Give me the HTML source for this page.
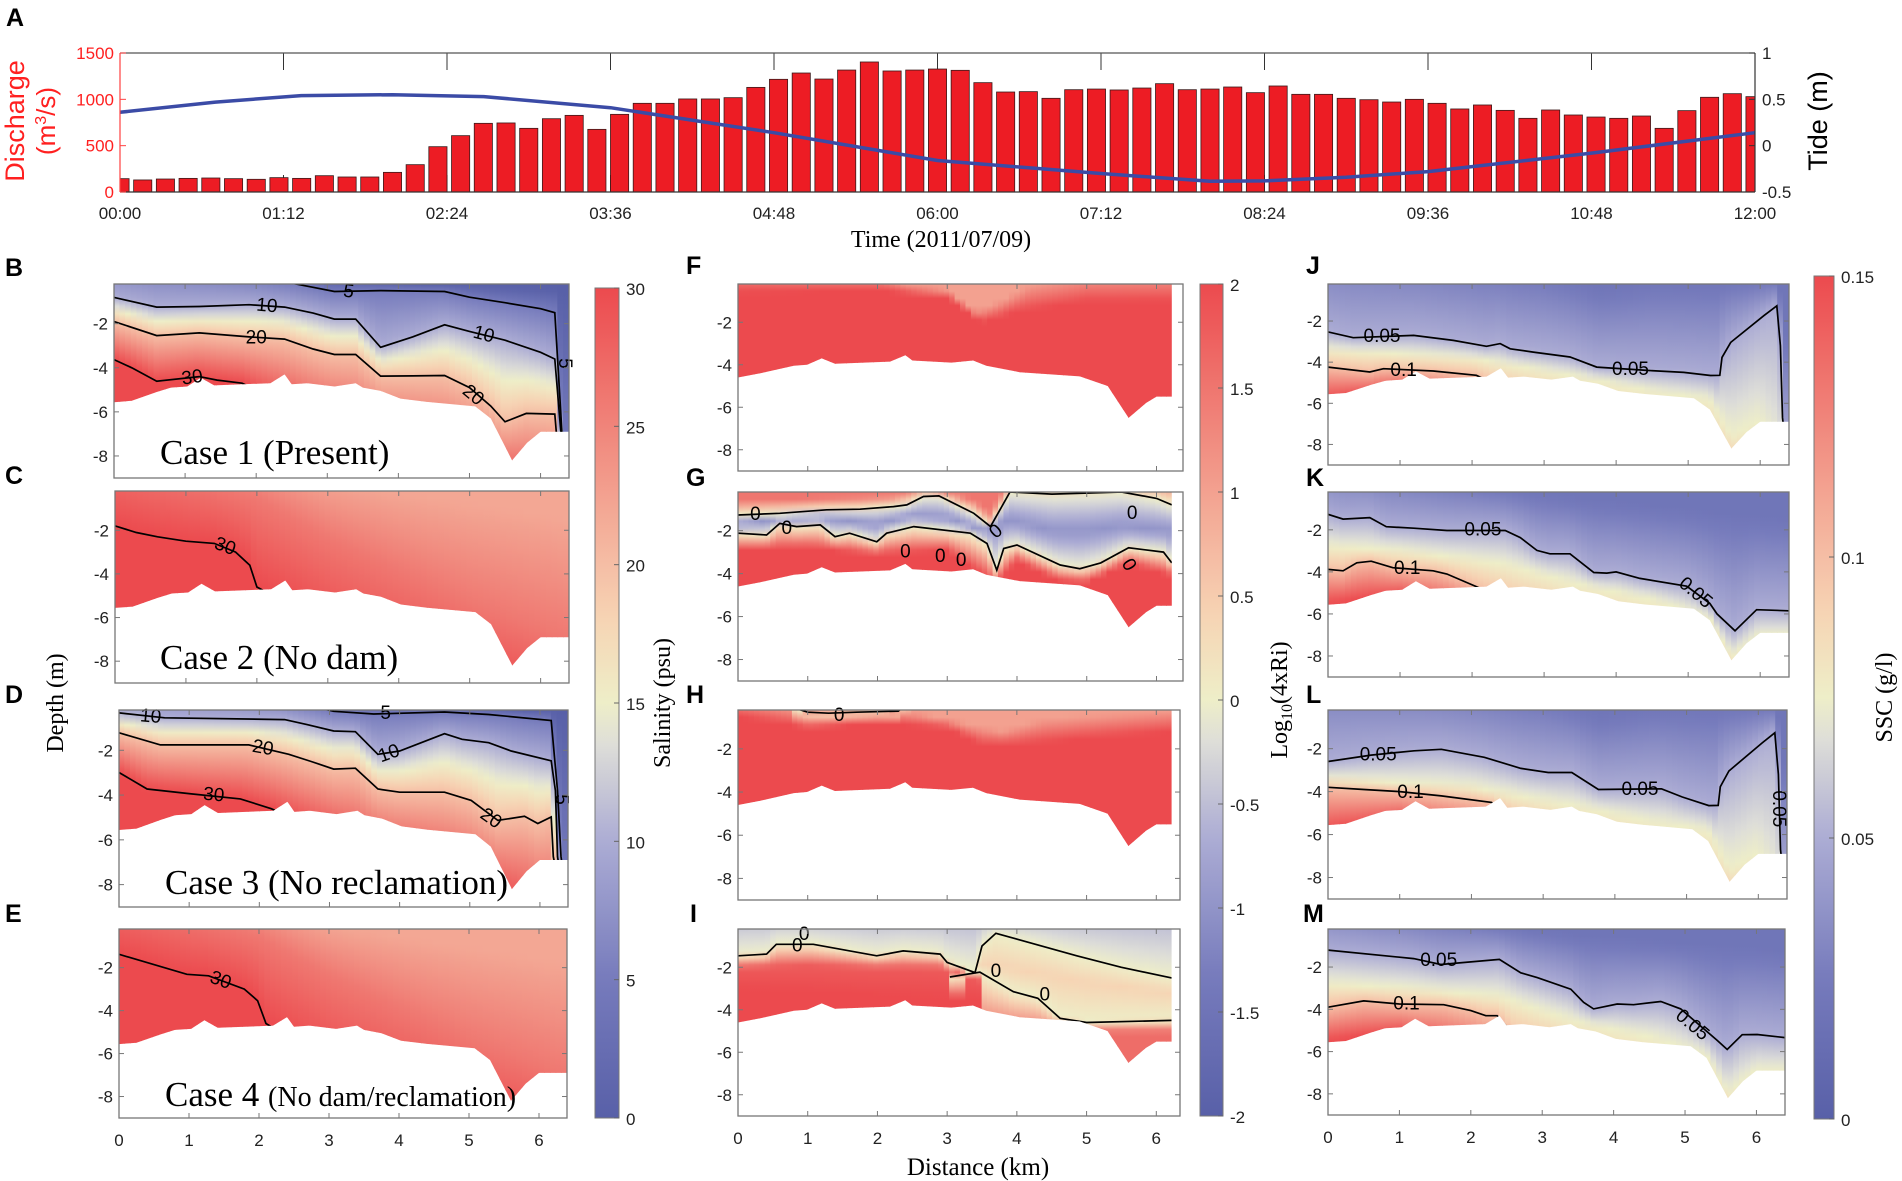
<!DOCTYPE html>
<html><head><meta charset="utf-8"><title>Salinity, Ri and SSC sections</title>
<style>
html,body{margin:0;padding:0;background:#fff;}
svg{display:block;font-family:"Liberation Sans",Arial,sans-serif;}
.tk{font-size:17px;fill:#222;}
.serif{font-family:"Liberation Serif","Times New Roman",serif;}
.lab{font-size:25px;font-weight:bold;fill:#000;}
</style></head>
<body>
<svg id="fig" xmlns="http://www.w3.org/2000/svg" width="1902" height="1181" viewBox="0 0 1902 1181">
<defs id="defs"></defs>
</svg>
<script>
// ---------------- Panel A data ----------------
const barHours = [];
for (let i = 0; i <= 72; i++) barHours.push(i / 6);
const discharge = [144,130,140,147,151,144,137,155,147,176,162,162,212,295,489,608,741,745,687,791,827,676,838,957,957,1004,1004,1018,1129,1216,1284,1219,1316,1403,1306,1316,1327,
1313,1180,1079,1083,1011,1104,1111,1101,1122,1169,1104,1111,1133,1072,1144,1054,1054,1011,996,971,1000,957,896,939,881,795,885,831,809,795,820,687,878,1022,1061,1029];
const tideHours = [0,0.7,1.33,2,2.67,3.6,4.8,6,7.2,8,8.4,9,9.6,10.8,12];
const tideVals  = [0.36,0.47,0.54,0.55,0.53,0.41,0.14,-0.16,-0.30,-0.385,-0.38,-0.34,-0.28,-0.08,0.14];
const timeTicks = ["00:00","01:12","02:24","03:36","04:48","06:00","07:12","08:24","09:36","10:48","12:00"];
const dischargeTicks = [0,500,1000,1500];
const tideTicks = [-0.5,0,0.5,1];

// ---------------- Section data ----------------
const bathyX1 = [0,0.25,0.6,0.8,1.03,1.22,1.41,2.2,2.4,2.5,2.72,3.1,3.4,3.5,3.75,4.03,4.4,5.08,5.3,5.6,5.81,6.0,6.4];
const bathyD1 = [-5.56,-5.5,-5.1,-4.9,-4.85,-4.45,-4.8,-4.7,-4.3,-4.75,-4.7,-4.85,-4.7,-4.9,-5.05,-5.4,-5.55,-5.75,-6.3,-8.2,-7.4,-6.9,-6.9];
const bathyX2 = [0,0.32,0.8,0.99,1.2,1.39,2.18,2.4,2.5,3.06,3.37,3.56,4.04,4.9,5.3,5.6,5.85,6.0,6.22];
const bathyD2 = [-4.6,-4.4,-4.05,-4.0,-3.7,-3.95,-3.85,-3.55,-3.8,-3.9,-3.8,-4.05,-4.35,-4.55,-5.0,-6.5,-5.8,-5.5,-5.5];
const depthTicks = [-2,-4,-6,-8];
const distTicks = [0,1,2,3,4,5,6];
const salTicks = [0,5,10,15,20,25,30];
const riTicks = [-2,-1.5,-1,-0.5,0,0.5,1,1.5,2];
const sscTicks = [0,0.05,0.1,0.15];

// Level = [value, xs(km), depths(m)]
const levelsB = [
 [0,[0,2,3,6.4],[2.5,1.5,0,-0.5]],
 [5,[0,1.2,2.4,2.8,3.1,3.75,4.65,5.0,5.5,6.0,6.2,6.3,6.4],[0.8,0.4,-0.1,-0.35,-0.54,-0.5,-0.54,-0.8,-1.05,-1.32,-1.5,-6.9,-9]],
 [10,[0,0.6,1.2,1.9,2.4,2.8,3.1,3.4,3.75,4.2,4.65,5.0,5.5,6.0,6.2,6.3,6.4],[-0.81,-1.25,-1.22,-1.14,-1.25,-1.52,-1.79,-1.79,-3.07,-2.6,-2.05,-2.35,-2.75,-3.3,-3.6,-7.5,-9.5]],
 [20,[0,0.6,1.2,1.9,2.4,2.8,3.1,3.4,3.75,4.2,4.65,5.0,5.3,5.5,5.8,6.2,6.25,6.4],[-1.9,-2.54,-2.42,-2.6,-2.7,-3.15,-3.4,-3.4,-4.38,-4.37,-4.35,-4.9,-5.74,-6.45,-6.07,-6.1,-8,-10]],
 [30,[0,0.25,0.6,1.2,1.45,1.8,2.4,3,4,6.4],[-3.63,-4.0,-4.61,-4.4,-4.56,-4.7,-5.6,-6.5,-7.5,-10]],
 [32,[0,6.4],[-6,-12]]
];
const levelsC = [
 [22,[0,2,3,4,5,6,6.4],[4,1.5,0.3,-0.3,-0.8,-1.3,-1.6]],
 [26,[0,2,3,4,5,6.4],[1.5,-0.5,-2.3,-3.8,-5.3,-7]],
 [30,[0,0.3,0.6,1.0,1.4,1.7,1.9,2.0,2.4,3,4,5,6.4],[-1.8,-2.1,-2.3,-2.5,-2.6,-3.0,-3.6,-4.6,-5.3,-6.5,-8,-9,-10]],
 [31,[0,6.4],[-4,-13]]
];
const levelsD = [
 [0,[0,2,3,6.4],[3,2,0.3,-0.3]],
 [5,[0,1.5,2.7,3.06,3.63,4.64,5.27,6.16,6.25,6.3,6.4],[1.5,0.8,0,-0.26,-0.38,-0.29,-0.4,-0.67,-3.8,-6.75,-9]],
 [10,[0,0.65,2.36,2.68,3.06,3.37,3.69,4.0,4.64,4.89,5.27,5.59,6.16,6.22,6.25,6.4],[-0.33,-0.55,-0.63,-0.85,-1.14,-1.17,-2.18,-2.03,-1.26,-1.51,-1.66,-2.03,-2.47,-3.8,-6.75,-9.5]],
 [20,[0,0.59,1.85,2.42,2.74,3.06,3.37,3.69,4.0,4.64,5.02,5.4,5.78,5.97,6.16,6.19,6.4],[-1.22,-1.76,-1.76,-2.18,-2.5,-2.84,-2.8,-3.73,-3.87,-3.87,-4.24,-5.13,-4.95,-5.27,-4.98,-6.75,-10]],
 [30,[0,0.4,1.03,1.73,2.17,2.6,3.2,4,5,6.4],[-2.99,-3.73,-3.95,-4.17,-4.61,-5.2,-6,-6.8,-7.8,-10]],
 [32,[0,6.4],[-5.5,-12]]
];
const levelsE = [
 [22,[0,2,3,4,5,6,6.4],[4,1.2,0,-0.6,-1.1,-1.6,-1.8]],
 [26,[0,2,3,4,5,6.4],[1.5,-0.5,-2.3,-3.8,-5.3,-7]],
 [30,[0,0.97,1.28,1.79,1.98,2.1,2.5,3,4,5,6.4],[-1.38,-2.31,-2.38,-3.0,-3.54,-4.6,-5.4,-6.5,-8,-9,-10]],
 [31,[0,6.4],[-4,-13]]
];
const levelsF = [
 [1.0,[0,1,2,2.5,3,3.4,3.8,4.2,5,6.22],[0.5,0.3,0.2,-0.3,-0.5,-1.5,-1.0,-0.2,0.2,0.3]],
 [2,[0,2,3,3.5,4,5,6.22],[-0.6,-0.5,-0.8,-2.0,-1.5,-1.0,-1.0]]
];
const levelsG = [
 [1.5,[0,1.3,2.2,2.7,3.4,3.6,3.9,6.22],[-0.6,-0.5,-0.4,0.1,-0.6,-1.2,0.3,0.3]],
 [0,[0,0.6,1.27,1.75,2.23,2.42,2.66,2.88,3.38,3.62,3.9,4.5,5.5,6.0,6.22],[-1.27,-1.19,-1.03,-1.0,-0.88,-0.8,-0.41,-0.38,-1.19,-1.81,-0.2,-0.3,-0.2,-0.5,-0.8]],
 [-1,[0,0.6,1.2,2.0,2.5,3.0,3.5,3.9,4.5,5.0,5.5,6.22],[-1.7,-1.45,-1.4,-1.7,-1.3,-1.4,-2.0,-1.5,-2,-2,-1.8,-2]],
 [0,[0,0.41,0.6,0.84,1.18,1.39,1.6,1.99,2.13,2.52,3.33,3.57,3.71,3.81,4.0,4.62,4.9,5.2,5.6,6.1,6.22],[-2.12,-2.2,-1.66,-1.81,-1.73,-2.28,-2.12,-2.52,-2.12,-1.81,-2.12,-2.6,-3.84,-2.83,-2.67,-3.6,-3.77,-3.5,-2.8,-3.0,-3.5]],
 [2,[0,1,2,3,3.7,4,4.6,5,5.6,6.22],[-2.9,-2.8,-3.1,-2.9,-4.5,-3.4,-4.3,-4.4,-3.5,-4.1]]
];
const levelsH = [
 [-0.3,[0.8,1.3,1.8,2.3],[0.2,-0.1,-0.1,0.2]],
 [0,[0.6,0.8,1.0,1.3,1.7,2.3,2.5],[0.3,-0.1,-0.3,-0.35,-0.3,-0.25,0.3]],
 [1.0,[0,1,2,2.6,3.2,3.8,4.4,6.22],[0.3,-0.2,-0.1,-0.4,-0.8,-1.2,-0.6,-0.2]],
 [2,[0,1,2,3,3.5,4,5,6.22],[-0.5,-1.0,-0.8,-1.0,-1.8,-1.8,-1.5,-1.2]]
];
const levelsI = [
 [-0.6,[0,6.22],[0.5,0.5]],
 [0,[0,0.41,0.55,1.08,1.99,2.37,2.9,3.0,3.4,3.5,3.7,4.86,5.5,6.22],[-1.46,-1.38,-0.92,-0.92,-1.46,-1.23,-1.38,-1.77,-2.25,-1.0,-0.4,-1.46,-2,-2.5]],
 [1.8,[0,1,2,2.9,3.47],[-2.0,-1.9,-2.0,-2.0,-2.6]],
 [2,[0,3.47],[-3,-3.5]],
 [0.4,[3.45,4.3,5,6.22],[-1.8,-2.3,-2.7,-3.2]],
 [0,[3.04,3.47,3.95,4.3,4.62,5.0,6.22],[-2.46,-2.23,-3.15,-3.46,-4.4,-4.6,-4.5]],
 [1.6,[3.5,6.22],[-5,-5]]
];
const levelsJ = [
 [0.02,[0,3,3.8,4.5,6.2,6.35,6.4],[2,0.5,-0.4,0,0,-1,-9]],
 [0.05,[0,0.35,1.19,1.74,2.2,2.39,2.53,2.85,3.36,3.73,4.43,4.94,5.31,5.44,5.47,5.59,6.05,6.23,6.28,6.31,6.4],[-2.53,-2.81,-2.7,-2.94,-3.23,-3.1,-3.35,-3.51,-3.75,-4.24,-4.4,-4.5,-4.65,-4.64,-3.77,-3.04,-1.74,-1.26,-3.2,-6.7,-9.5]],
 [0.075,[0,2,2.5,3.5,4.5,5.3,5.6,6.0,6.4],[-3.4,-3.8,-4.1,-4.7,-5.4,-5.8,-7.6,-6.9,-10]],
 [0.1,[0,0.58,0.77,1.46,2.06,2.4,3,6.4],[-4.24,-4.48,-4.32,-4.43,-4.64,-5.2,-6,-10]],
 [0.15,[0,1,2,6.4],[-5.8,-5.3,-6,-11]]
];
const levelsK = [
 [0.02,[0,2.5,3.5,6.4],[1.5,0,-0.5,-1.5]],
 [0.05,[0,0.21,0.58,0.81,1.19,1.65,2.46,2.67,2.9,3.08,3.36,3.69,3.87,4.0,4.33,4.98,5.3,5.4,5.65,5.95,6.4],[-1.26,-1.49,-1.42,-1.85,-1.92,-2.03,-2.03,-2.37,-2.98,-3.14,-3.14,-4.03,-4.06,-4.0,-4.31,-4.68,-5.5,-6.0,-6.8,-5.8,-5.85]],
 [0.075,[0,1,2.4,3.5,4.5,5.3,5.6,6,6.4],[-2.8,-3.0,-3.6,-4.6,-5.3,-6.2,-8,-7,-7]],
 [0.1,[0,0.21,0.4,0.6,0.9,1.46,1.65,1.97,2.4,3,6.4],[-3.88,-3.95,-3.57,-3.49,-3.8,-3.95,-4.1,-4.57,-5.2,-6,-10]],
 [0.15,[0,1,2,6.4],[-5.5,-5.1,-6,-11]]
];
const levelsL = [
 [0.02,[0,3,3.8,4.5,6.2,6.35,6.4],[2,0.5,-0.4,0,0,-1,-9]],
 [0.05,[0,0.6,1.2,1.58,2.18,2.69,3.07,3.4,3.77,4.65,4.94,5.31,5.44,5.47,5.59,6.05,6.23,6.28,6.31,6.4],[-2.6,-2.3,-2.1,-2.03,-2.4,-2.92,-3.11,-3.11,-3.9,-3.87,-4.25,-4.65,-4.64,-3.77,-3.04,-1.74,-1.26,-3.2,-6.7,-9.5]],
 [0.075,[0,2,2.5,3.5,4.5,5.3,5.6,6.0,6.4],[-3.4,-3.8,-4.1,-4.7,-5.4,-5.8,-7.6,-6.9,-10]],
 [0.1,[0,0.5,1.0,1.58,2.28,2.6,3.2,6.4],[-3.8,-3.9,-4.0,-4.2,-4.5,-5.2,-6,-10]],
 [0.15,[0,1,2,6.4],[-5.8,-5.3,-6,-11]]
];
const levelsM = [
 [0.02,[0,2.5,3.5,6.4],[1.5,0,-0.5,-1.2]],
 [0.05,[0,1.2,1.58,2.4,2.7,2.93,3.4,3.58,3.72,4.05,4.28,4.66,4.94,5.45,5.59,5.8,6.01,6.4],[-1.2,-1.6,-1.88,-1.64,-2.27,-2.5,-3.05,-3.67,-3.98,-3.75,-3.78,-3.63,-3.98,-5.47,-5.9,-5.2,-5.19,-5.34]],
 [0.075,[0,1,2.4,3.5,4.5,5.3,5.6,6,6.4],[-2.8,-3.0,-3.4,-4.6,-5.3,-6.2,-8,-6.9,-6.9]],
 [0.1,[0,0.5,1.0,1.62,2.0,2.21,2.37,2.6,3.2,6.4],[-3.9,-3.6,-3.75,-3.78,-4.06,-4.3,-4.3,-5.2,-6,-10]],
 [0.15,[0,1,2,6.4],[-5.5,-5.1,-6,-11]]
];

const labelsB = [["5",3.3,-0.55,8],["10",2.15,-1.2,5],["20",2.0,-2.65,0],["30",1.1,-4.45,-8],["10",5.2,-2.5,15],["20",5.05,-5.25,40],["5",6.34,-3.8,90]];
const labelsC = [["30",1.55,-2.75,20]];
const labelsD = [["10",0.45,-0.5,5],["5",3.8,-0.35,0],["20",2.05,-1.9,10],["10",3.85,-2.15,-20],["30",1.35,-4.0,5],["20",5.3,-5.05,35],["5",6.3,-4.2,90]];
const labelsE = [["30",1.45,-2.6,20]];
const labelsG = [["0",0.25,-1.25,0],["0",0.7,-1.9,0],["0",3.7,-2.05,-40],["0",2.4,-3.0,0],["0",2.9,-3.2,0],["0",3.2,-3.4,0],["0",5.65,-1.2,0],["0",5.6,-3.6,60]];
const labelsH = [["0",1.45,-0.45,0]];
const labelsI = [["0",0.95,-0.45,0],["0",0.85,-1.0,0],["0",3.7,-2.2,0],["0",4.4,-3.3,0]];
const labelsJ = [["0.05",0.75,-2.75,0],["0.1",1.05,-4.4,0],["0.05",4.2,-4.35,0]];
const labelsK = [["0.05",2.15,-2.0,0],["0.1",1.1,-3.85,0],["0.05",5.1,-5.0,40]];
const labelsL = [["0.05",0.7,-2.3,0],["0.1",1.15,-4.05,0],["0.05",4.35,-3.9,0],["0.05",6.28,-4.8,90]];
const labelsM = [["0.05",1.55,-1.7,0],["0.1",1.1,-3.75,0],["0.05",5.1,-4.75,40]];

// ---------------- helpers ----------------
const NS = "http://www.w3.org/2000/svg";
const svg = document.getElementById("fig");
const defs = document.getElementById("defs");
function el(tag, attrs, parent) {
  const e = document.createElementNS(NS, tag);
  for (const k in attrs) e.setAttribute(k, attrs[k]);
  (parent || svg).appendChild(e);
  return e;
}
function txt(s, x, y, attrs, parent) {
  const t = el("text", Object.assign({x: x, y: y}, attrs || {}), parent);
  t.textContent = s;
  return t;
}
function interp(xs, ys, x) {
  if (x < xs[0] - 1e-9 || x > xs[xs.length - 1] + 1e-9) return null;
  for (let i = 1; i < xs.length; i++) {
    if (x <= xs[i]) {
      const t = (x - xs[i - 1]) / ((xs[i] - xs[i - 1]) || 1);
      return ys[i - 1] + t * (ys[i] - ys[i - 1]);
    }
  }
  return ys[ys.length - 1];
}
const CM = [[0,88,96,168],[1/6,118,123,188],[1/3,172,172,212],[0.45,222,222,216],[0.5,238,238,200],[0.6,246,212,180],[2/3,245,190,165],[5/6,240,132,122],[1,236,74,78]];
function cmap(t) {
  t = Math.max(0, Math.min(1, t));
  for (let i = 1; i < CM.length; i++) {
    if (t <= CM[i][0]) {
      const a = CM[i - 1], b = CM[i], f = (t - a[0]) / (b[0] - a[0]);
      return "rgb(" + Math.round(a[1] + f * (b[1] - a[1])) + "," + Math.round(a[2] + f * (b[2] - a[2])) + "," + Math.round(a[3] + f * (b[3] - a[3])) + ")";
    }
  }
  return "rgb(236,74,78)";
}
const YMAX = -0.2, YMIN = -9;
let gid = 0;

// ---------------- Panel A ----------------
(function () {
  const x0 = 120, x1 = 1755, y0 = 53, y1 = 192;
  const xA = h => x0 + h / 12 * (x1 - x0);
  const yQ = q => y1 - q / 1500 * (y1 - y0);
  const yT = t => y1 - (t + 0.5) / 1.5 * (y1 - y0);
  const g = el("g", {});
  
  
  const cp = el("clipPath", {id: "clipA"}, defs);
  el("rect", {x: x0, y: y0 - 2, width: x1 - x0, height: y1 - y0 + 2}, cp);
  timeTicks.forEach((s, i) => {
    const x = xA(i * 1.2);
    const t1 = el("line", {x1: x, y1: y0, x2: x, y2: y0 + 17, stroke: "#333", "stroke-width": 1}, g);
    
    
    el("line", {x1: x, y1: y1, x2: x, y2: y1 - 17, stroke: "#333", "stroke-width": 1}, g);
    const lb = txt(s, x, 219, {class: "tk", "text-anchor": "middle", "font-size": "17"}, g);
    
    
  });
  const bars = el("g", {"clip-path": "url(#clipA)"}, g);
  
  
  const bw = (x1 - x0) / 72 * 0.8;
  discharge.forEach((q, i) => {
    const x = xA(barHours[i]);
    const r = el("rect", {x: x - bw / 2, y: yQ(q), width: bw, height: y1 - yQ(q), fill: "#ed1c24", stroke: "#3a1a1a", "stroke-width": 0.8}, bars);
    
    
  });
  let d = "";
  tideHours.forEach((h, i) => { d += (i ? "L" : "M") + xA(h).toFixed(1) + "," + yT(tideVals[i]).toFixed(1); });
  const line = el("path", {d: d, fill: "none", stroke: "#3b4ba6", "stroke-width": 3.5, "stroke-linejoin": "round"}, g);
  
  
  el("line", {x1: x0, y1: y0, x2: x1, y2: y0, stroke: "#555", "stroke-width": 1.2}, g);
  el("line", {x1: x0, y1: y1, x2: x1, y2: y1, stroke: "#333", "stroke-width": 1.2}, g);
  el("line", {x1: x1, y1: y0, x2: x1, y2: y1, stroke: "#333", "stroke-width": 1.2}, g);
  el("line", {x1: x0, y1: y0, x2: x0, y2: y1, stroke: "#ff4040", "stroke-width": 1.2}, g);
  dischargeTicks.forEach(q => {
    el("line", {x1: x0, y1: yQ(q), x2: x0 + 6, y2: yQ(q), stroke: "#ff4040"}, g);
    const t = txt(String(q), x0 - 6, yQ(q) + 6, {class: "tk", "text-anchor": "end", style: "fill:#ff2020"}, g);
    
    
  });
  tideTicks.forEach(v => {
    el("line", {x1: x1, y1: yT(v), x2: x1 - 6, y2: yT(v), stroke: "#333"}, g);
    const t = txt(String(v), x1 + 7, yT(v) + 6, {class: "tk"}, g);
    
    
  });
  const yl = el("text", {transform: "translate(24,121) rotate(-90)", "text-anchor": "middle", "font-size": "27", fill: "#ff2020"}, g);
  yl.textContent = "Discharge";
  
  
  const yl2 = el("text", {transform: "translate(55,121) rotate(-90)", "text-anchor": "middle", "font-size": "26", fill: "#ff2020"}, g);
  yl2.innerHTML = '(m<tspan dy="-9" font-size="16">3</tspan><tspan dy="9">/s)</tspan>';
  
  
  const yr = el("text", {transform: "translate(1827,121) rotate(-90)", "text-anchor": "middle", "font-size": "27", fill: "#000"}, g);
  yr.textContent = "Tide (m)";
  
  
  const xt = txt("Time (2011/07/09)", 941, 247, {class: "serif", "font-size": "24", "text-anchor": "middle"}, g);
  
  
})();

// ---------------- Section panels ----------------
function drawPanel(p) {
  const [X0, Y0, X1, Y1] = p.r;
  const sx = km => X0 + km * (X1 - X0) / p.xmax;
  const sy = d => Y0 + (YMAX - d) * (Y1 - Y0) / (YMAX - YMIN);
  const g = el("g", {});
  
  
  const id = "cp" + (gid++);
  const cp = el("clipPath", {id: id}, defs);
  const bx = p.bx, bd = p.bd, xEnd = bx[bx.length - 1];
  let pts = [[sx(0), Y0], [sx(xEnd), Y0]];
  for (let i = bx.length - 1; i >= 0; i--) pts.push([sx(bx[i]), sy(bd[i])]);
  el("polygon", {points: pts.map(q => q[0].toFixed(1) + "," + q[1].toFixed(1)).join(" ")}, cp);
  const field = el("g", {"clip-path": "url(#" + id + ")"}, g);
  
  
  const ncol = 80, nst = 26;
  for (let c = 0; c < ncol; c++) {
    const xa = c * xEnd / ncol, xb = (c + 1) * xEnd / ncol, xm = (xa + xb) / 2;
    const pairs = [];
    p.levels.forEach(L => { const dv = interp(L[1], L[2], xm); if (dv !== null) pairs.push([dv, L[0]]); });
    pairs.sort((a, b) => b[0] - a[0]);
    const gidn = "lg" + (gid++);
    const lg = el("linearGradient", {id: gidn, gradientUnits: "userSpaceOnUse", x1: 0, y1: Y0, x2: 0, y2: Y1}, defs);
    for (let s = 0; s <= nst; s++) {
      const z = YMAX + (YMIN - YMAX) * s / nst;
      let v;
      if (!pairs.length) v = p.vmax;
      else if (z >= pairs[0][0]) v = pairs[0][1];
      else if (z <= pairs[pairs.length - 1][0]) v = pairs[pairs.length - 1][1];
      else {
        for (let k = 1; k < pairs.length; k++) {
          if (z >= pairs[k][0]) {
            const f = (pairs[k - 1][0] - z) / ((pairs[k - 1][0] - pairs[k][0]) || 1);
            v = pairs[k - 1][1] + f * (pairs[k][1] - pairs[k - 1][1]);
            break;
          }
        }
      }
      el("stop", {offset: (s / nst).toFixed(3), "stop-color": cmap((v - p.vmin) / (p.vmax - p.vmin))}, lg);
    }
    el("rect", {x: sx(xa) - 0.3, y: Y0, width: sx(xb) - sx(xa) + 0.8, height: Y1 - Y0, fill: "url(#" + gidn + ")"}, field);
  }
  const cl = el("g", {"clip-path": "url(#" + id + ")"}, g);
  p.contours.forEach(ci => {
    const L = p.levels[ci];
    let d = "";
    L[1].forEach((x, i) => { d += (i ? "L" : "M") + sx(x).toFixed(1) + "," + sy(L[2][i]).toFixed(1); });
    const pl = el("path", {d: d, fill: "none", stroke: "#000", "stroke-width": 1.7}, cl);
    
    
  });
  (p.labels || []).forEach(l => {
    const x = sx(l[1]), y = sy(l[2]);
    const t = el("text", {transform: "translate(" + x.toFixed(1) + "," + y.toFixed(1) + ") rotate(" + (l[3] || 0) + ")", "text-anchor": "middle", "dominant-baseline": "central", "font-size": "19", fill: "#000"}, g);
    t.textContent = l[0];
    
    
  });
  el("rect", {x: X0, y: Y0, width: X1 - X0, height: Y1 - Y0, fill: "none", stroke: "#777", "stroke-width": 1.3}, g);
  depthTicks.forEach(d => {
    el("line", {x1: X0, y1: sy(d), x2: X0 + 5, y2: sy(d), stroke: "#777"}, g);
    el("line", {x1: X1, y1: sy(d), x2: X1 - 5, y2: sy(d), stroke: "#777"}, g);
    const t = txt(String(d), X0 - 6, sy(d) + 6, {class: "tk", "text-anchor": "end", "font-size": "18"}, g);
    
    
  });
  distTicks.forEach(k => {
    if (k === 0) return;
    el("line", {x1: sx(k), y1: Y1, x2: sx(k), y2: Y1 - 5, stroke: "#777"}, g);
    el("line", {x1: sx(k), y1: Y0, x2: sx(k), y2: Y0 + 5, stroke: "#777"}, g);
  });
  if (p.xlabels) distTicks.forEach(k => {
    const t = txt(String(k), sx(k), Y1 + 28, {class: "tk", "text-anchor": "middle", "font-size": "18"}, g);
    
    
  });
  const lt = txt(p.letter, p.lx, p.ly, {class: "lab"}, svg);
  
  
  if (p.caseLabel) {
    const c = el("text", {x: p.caseX, y: p.caseY, class: "serif", "font-size": "35", fill: "#000"}, g);
    c.innerHTML = p.caseLabel;
    
    
  }
}

const S = [0, 30], R = [-2, 2], Q = [0, 0.15];
const panels = [
 {name:"panel-b-salinity-case1", letter:"B", lx:5, ly:276, r:[114,284,569,478], xmax:6.4, bx:bathyX1, bd:bathyD1, levels:levelsB, contours:[1,2,3,4], labels:labelsB, vmin:S[0], vmax:S[1], caseLabel:"Case 1 (Present)", caseX:160, caseY:464},
 {name:"panel-c-salinity-case2", letter:"C", lx:5, ly:484, r:[115,491,569,683], xmax:6.4, bx:bathyX1, bd:bathyD1, levels:levelsC, contours:[2], labels:labelsC, vmin:S[0], vmax:S[1], caseLabel:"Case 2 (No dam)", caseX:160, caseY:669},
 {name:"panel-d-salinity-case3", letter:"D", lx:5, ly:703, r:[119,710,568,907], xmax:6.4, bx:bathyX1, bd:bathyD1, levels:levelsD, contours:[1,2,3,4], labels:labelsD, vmin:S[0], vmax:S[1], caseLabel:"Case 3 (No reclamation)", caseX:165, caseY:894},
 {name:"panel-e-salinity-case4", letter:"E", lx:5, ly:922, r:[119,929,567,1118], xmax:6.4, bx:bathyX1, bd:bathyD1, levels:levelsE, contours:[2], labels:labelsE, vmin:S[0], vmax:S[1], xlabels:true, caseLabel:'Case 4 <tspan font-size="28">(No dam/reclamation)</tspan>', caseX:165, caseY:1106},
 {name:"panel-f-ri-case1", letter:"F", lx:686, ly:274, r:[738,284,1183,471], xmax:6.38, bx:bathyX2, bd:bathyD2, levels:levelsF, contours:[], labels:[], vmin:R[0], vmax:R[1]},
 {name:"panel-g-ri-case2", letter:"G", lx:686, ly:486, r:[738,492,1183,681], xmax:6.38, bx:bathyX2, bd:bathyD2, levels:levelsG, contours:[1,3], labels:labelsG, vmin:R[0], vmax:R[1]},
 {name:"panel-h-ri-case3", letter:"H", lx:686, ly:703, r:[738,710,1180,900], xmax:6.34, bx:bathyX2, bd:bathyD2, levels:levelsH, contours:[1], labels:labelsH, vmin:R[0], vmax:R[1]},
 {name:"panel-i-ri-case4", letter:"I", lx:690, ly:922, r:[738,929,1180,1116], xmax:6.34, bx:bathyX2, bd:bathyD2, levels:levelsI, contours:[1,5], labels:labelsI, vmin:R[0], vmax:R[1], xlabels:true},
 {name:"panel-j-ssc-case1", letter:"J", lx:1306, ly:274, r:[1328,284,1789,465], xmax:6.4, bx:bathyX1, bd:bathyD1, levels:levelsJ, contours:[1,3], labels:labelsJ, vmin:Q[0], vmax:Q[1]},
 {name:"panel-k-ssc-case2", letter:"K", lx:1306, ly:486, r:[1328,492,1789,677], xmax:6.4, bx:bathyX1, bd:bathyD1, levels:levelsK, contours:[1,3], labels:labelsK, vmin:Q[0], vmax:Q[1]},
 {name:"panel-l-ssc-case3", letter:"L", lx:1306, ly:703, r:[1328,710,1787,899], xmax:6.4, bx:bathyX1, bd:bathyD1, levels:levelsL, contours:[1,3], labels:labelsL, vmin:Q[0], vmax:Q[1]},
 {name:"panel-m-ssc-case4", letter:"M", lx:1303, ly:922, r:[1328,929,1785,1115], xmax:6.4, bx:bathyX1, bd:bathyD1, levels:levelsM, contours:[1,3], labels:labelsM, vmin:Q[0], vmax:Q[1], xlabels:true}
];
panels.forEach(drawPanel);

// ---------------- Colorbars ----------------
function colorbar(name, x0, x1, y0, y1, ticks, vmin, vmax, labelX, titleX, titleHtml) {
  const g = el("g", {});
  
  
  const id = "cb" + (gid++);
  const lg = el("linearGradient", {id: id, x1: 0, y1: 1, x2: 0, y2: 0}, defs);
  for (let s = 0; s <= 40; s++) el("stop", {offset: s / 40, "stop-color": cmap(s / 40)}, lg);
  el("rect", {x: x0, y: y0, width: x1 - x0, height: y1 - y0, fill: "url(#" + id + ")", stroke: "#777", "stroke-width": 1}, g);
  ticks.forEach(v => {
    const y = y1 - (v - vmin) / (vmax - vmin) * (y1 - y0);
    el("line", {x1: x1, y1: y, x2: x1 - 5, y2: y, stroke: "#666"}, g);
    const t = txt(String(v), labelX, y + 7, {class: "tk", "font-size": "18"}, g);
    
    
  });
  const tt = el("text", {transform: "translate(" + titleX + "," + ((y0 + y1) / 2) + ") rotate(-90)", class: "serif", "font-size": "24", "text-anchor": "middle"}, g);
  tt.innerHTML = titleHtml;
  
  
}
colorbar("salinity-colorbar", 595, 619, 288, 1118, salTicks, 0, 30, 626, 670, "Salinity (psu)");
colorbar("ri-colorbar", 1200, 1223, 284, 1116, riTicks, -2, 2, 1230, 1287, 'Log<tspan font-size="16" dy="5">10</tspan><tspan dy="-5">(4xRi)</tspan>');
colorbar("ssc-colorbar", 1814, 1834, 276, 1119, sscTicks, 0, 0.15, 1841, 1892, "SSC (g/l)");

const dl = el("text", {transform: "translate(63,703) rotate(-90)", class: "serif", "font-size": "24", "text-anchor": "middle"});
dl.textContent = "Depth (m)";


const xl = txt("Distance (km)", 978, 1175, {class: "serif", "font-size": "25", "text-anchor": "middle"});


const la = txt("A", 6, 26, {class: "lab"});


</script>
</body></html>
